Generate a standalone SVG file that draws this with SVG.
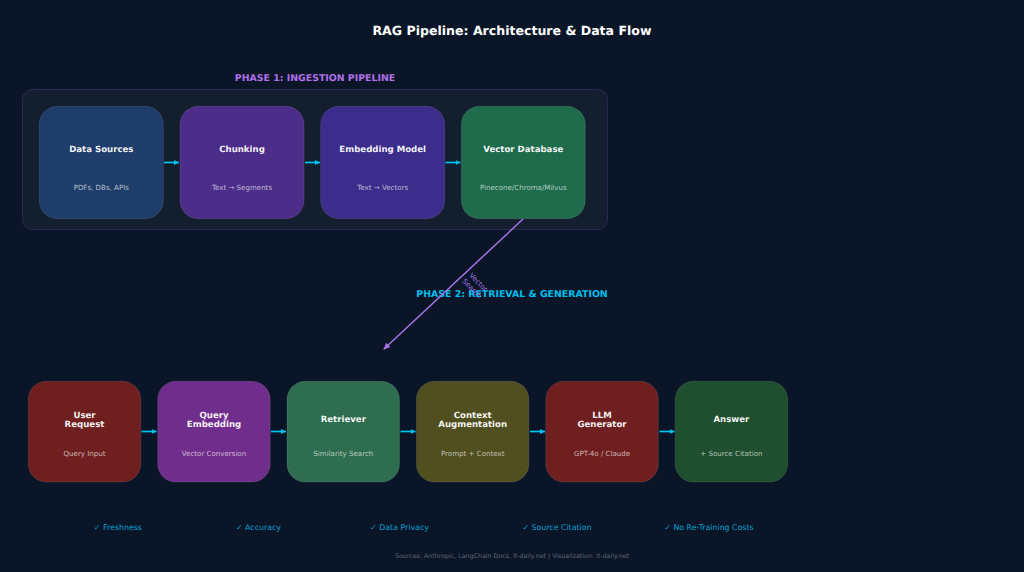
<svg xmlns="http://www.w3.org/2000/svg" width="1024" height="572" viewBox="0 0 1024 572">
<style>
text{font-family:"DejaVu Sans",sans-serif;text-anchor:middle;text-rendering:geometricPrecision}
.t{font-size:8.6px;font-weight:700;fill:#fff;fill-opacity:.95}
.s{font-size:7.07px;fill:#fff;fill-opacity:.65}
.n{stroke:#fff;stroke-opacity:.1;stroke-width:1}
.b{font-size:7.85px;fill:#00bfea;fill-opacity:.85}
.a{stroke:#00c4f0;stroke-width:1.7;fill:none;marker-end:url(#ma)}
</style>
<defs>
<marker id="ma" markerUnits="userSpaceOnUse" markerWidth="6" markerHeight="7" refX="5" refY="3.500" orient="auto"><path d="M0 1L5 3.500L0 6Z" fill="#00c4f0"/></marker>
<marker id="mp" markerUnits="userSpaceOnUse" markerWidth="8" markerHeight="8" refX="6" refY="4" orient="auto"><path d="M0 1L7 4L0 7Z" fill="#a971e8"/></marker>
</defs>
<rect width="1024" height="572" fill="#0a1628"/>
<text x="512" y="34.600" style="font-size:12.550px;font-weight:700" fill="#fff">RAG Pipeline: Architecture &amp; Data Flow</text>
<rect id="panel" x="22.500" y="89.500" width="585" height="140" rx="10" fill="#131e2e" stroke="#2a2a50" stroke-width="1"/>
<text id="phase1" x="315" y="81.300" style="font-size:9.400px;font-weight:700" fill="#b070ea">PHASE 1: INGESTION PIPELINE</text>
<text id="phase2" x="512" y="297.300" style="font-size:9.400px;font-weight:700" fill="#00bfea">PHASE 2: RETRIEVAL &amp; GENERATION</text>
<g id="connectors">
<path class="a" d="M164 162.500H179"/><path class="a" d="M305 162.500H320"/><path class="a" d="M445.500 162.500H460.500"/>
<path class="a" d="M141.500 431.500H156.500"/><path class="a" d="M271 431.500H286"/><path class="a" d="M400.500 431.500H415.500"/><path class="a" d="M530 431.500H545"/><path class="a" d="M659.500 431.500H674.500"/>
<path d="M523 219L384 349" stroke="#a971e8" stroke-width="1.500" fill="none" marker-end="url(#mp)"/>
<g transform="translate(476 284.500) rotate(45)" fill="#a971e8" style="font-size:7.070px"><text x="0" y="-1">Vector</text><text x="0" y="8">Search</text></g>
</g>
<g id="data-sources"><rect class="n" x="39.300" y="106.300" width="124" height="112.400" rx="18" fill="#1e3d6b"/><text class="t" x="101.300" y="151.600">Data Sources</text><text class="s" x="101.300" y="189.700">PDFs, DBs, APIs</text></g>
<g id="chunking"><rect class="n" x="180" y="106.300" width="124" height="112.400" rx="18" fill="#4d2d8a"/><text class="t" x="242" y="151.600">Chunking</text><text class="s" x="242" y="189.700">Text → Segments</text></g>
<g id="embedding-model"><rect class="n" x="320.700" y="106.300" width="124" height="112.400" rx="18" fill="#3c2d8c"/><text class="t" x="382.700" y="151.600">Embedding Model</text><text class="s" x="382.700" y="189.700">Text → Vectors</text></g>
<g id="vector-database"><rect class="n" x="461.300" y="106.300" width="124" height="112.400" rx="18" fill="#1f6c4d"/><text class="t" x="523.300" y="151.600">Vector Database</text><text class="s" x="523.300" y="189.700">Pinecone/Chroma/Milvus</text></g>
<g id="user-request"><rect class="n" x="28.250" y="381.300" width="112.500" height="100.700" rx="18" fill="#6f1f1f"/><text class="t" x="84.500" y="417.700">User</text><text class="t" x="84.500" y="427.100">Request</text><text class="s" x="84.500" y="456.200">Query Input</text></g>
<g id="query-embedding"><rect class="n" x="157.700" y="381.300" width="112.500" height="100.700" rx="18" fill="#6f2e8c"/><text class="t" x="214" y="417.700">Query</text><text class="t" x="214" y="427.100">Embedding</text><text class="s" x="214" y="456.200">Vector Conversion</text></g>
<g id="retriever"><rect class="n" x="287" y="381.300" width="112.500" height="100.700" rx="18" fill="#2e6d4f"/><text class="t" x="343.300" y="422.400">Retriever</text><text class="s" x="343.300" y="456.200">Similarity Search</text></g>
<g id="context-augmentation"><rect class="n" x="416.400" y="381.300" width="112.500" height="100.700" rx="18" fill="#4f4f1f"/><text class="t" x="472.700" y="417.700">Context</text><text class="t" x="472.700" y="427.100">Augmentation</text><text class="s" x="472.700" y="456.200">Prompt + Context</text></g>
<g id="llm-generator"><rect class="n" x="545.800" y="381.300" width="112.500" height="100.700" rx="18" fill="#6f1f1f"/><text class="t" x="602" y="417.700">LLM</text><text class="t" x="602" y="427.100">Generator</text><text class="s" x="602" y="456.200">GPT-4o / Claude</text></g>
<g id="answer"><rect class="n" x="675.200" y="381.300" width="112.500" height="100.700" rx="18" fill="#1f4f2e"/><text class="t" x="731.400" y="422.400">Answer</text><text class="s" x="731.400" y="456.200">+ Source Citation</text></g>
<text class="b" x="118" y="529.700">✓ Freshness</text>
<text class="b" x="258.500" y="529.700">✓ Accuracy</text>
<text class="b" x="399.500" y="529.700">✓ Data Privacy</text>
<text class="b" x="557" y="529.700">✓ Source Citation</text>
<text class="b" x="709" y="529.700">✓ No Re-Training Costs</text>
<text x="512" y="558.300" style="font-size:6.300px" fill="#fff" fill-opacity=".35">Sources: Anthropic, LangChain Docs, it-daily.net | Visualization: it-daily.net</text>
</svg>
